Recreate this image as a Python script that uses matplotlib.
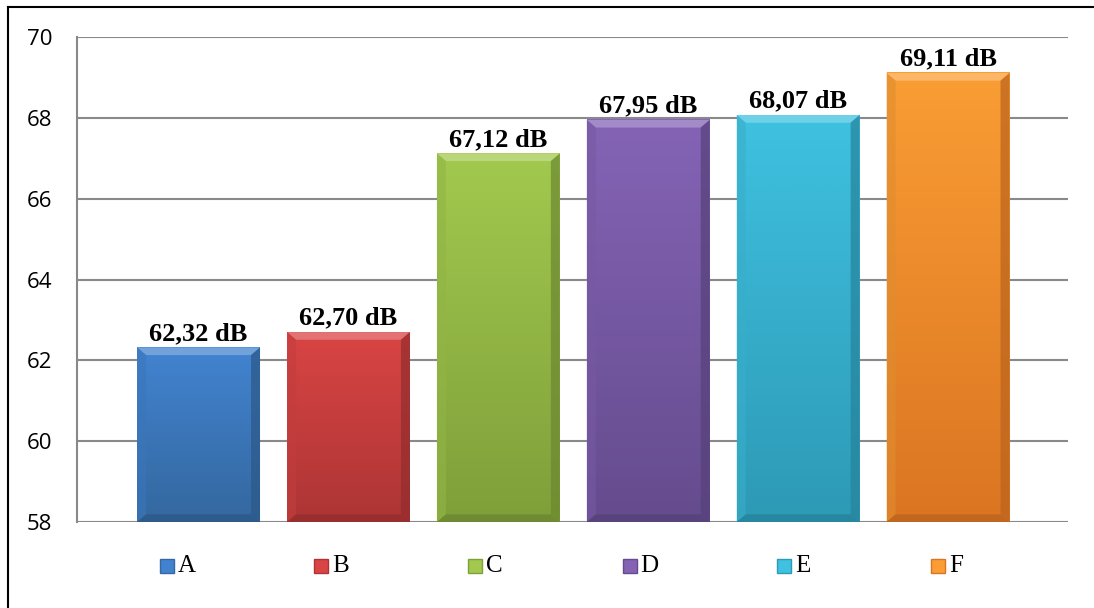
import numpy as np
import matplotlib
matplotlib.use("Agg")
import matplotlib.pyplot as plt
from matplotlib.patches import Rectangle, Polygon
from matplotlib.colors import to_rgb, LinearSegmentedColormap

plt.rcParams["font.family"] = ["Open Sans", "DejaVu Sans"]

names = ["A", "B", "C", "D", "E", "F"]
values = [62.32, 62.70, 67.12, 67.95, 68.07, 69.11]
labels = ["62,32 dB", "62,70 dB", "67,12 dB", "67,95 dB", "68,07 dB", "69,11 dB"]
top_colors = ["#4283D0", "#D94444", "#A2C94E", "#8463B5", "#3FC1E0", "#F99D34"]
bottom_colors = ["#34689F", "#AD3535", "#7F9F3A", "#654C8E", "#2D9AB6", "#DB7522"]
yticks = [58, 60, 62, 64, 66, 68, 70]

ymin = 58
width = 0.82


def mix(c, other, t):
    c = np.array(to_rgb(c))
    return tuple(c * (1 - t) + np.array(other) * t)


fig = plt.figure(figsize=(10.94, 6.08), dpi=100)
ax = fig.add_axes([0.0704, 0.1414, 0.9058, 0.7977])

x = np.arange(len(names))
bars = ax.bar(x, [v - ymin for v in values], width, bottom=ymin,
              color=top_colors, zorder=2, linewidth=0)

# gradient + bevel for each bar
bx = 0.06    # bevel width (x data units)
by = 0.19    # bevel height (y data units)
for b, c_top, c_bot in zip(bars, top_colors, bottom_colors):
    x0, y0 = b.get_x(), b.get_y()
    w, h = b.get_width(), b.get_height()
    cmap = LinearSegmentedColormap.from_list("g", [c_bot, c_top])
    grad = np.linspace(0, 1, 64).reshape(-1, 1)
    ax.imshow(grad, extent=(x0, x0 + w, y0, y0 + h), origin="lower",
              cmap=cmap, aspect="auto", zorder=3, interpolation="bicubic")
    x1, y1 = x0 + w, y0 + h
    # top bevel (light)
    ax.add_patch(Polygon([(x0, y1), (x1, y1), (x1 - bx, y1 - by), (x0 + bx, y1 - by)],
                         closed=True, facecolor=mix(c_top, (1, 1, 1), 0.25),
                         edgecolor="none", zorder=4))
    # left bevel
    ax.add_patch(Polygon([(x0, y0), (x0, y1), (x0 + bx, y1 - by), (x0 + bx, y0 + by)],
                         closed=True, facecolor=mix(c_top, (0, 0, 0), 0.1),
                         edgecolor="none", zorder=4, alpha=0.6))
    # right bevel (dark)
    ax.add_patch(Polygon([(x1, y0), (x1, y1), (x1 - bx, y1 - by), (x1 - bx, y0 + by)],
                         closed=True, facecolor=mix(c_bot, (0, 0, 0), 0.15),
                         edgecolor="none", zorder=4, alpha=0.7))
    # bottom bevel (dark)
    ax.add_patch(Polygon([(x0, y0), (x1, y0), (x1 - bx, y0 + by), (x0 + bx, y0 + by)],
                         closed=True, facecolor=mix(c_bot, (0, 0, 0), 0.15),
                         edgecolor="none", zorder=4, alpha=0.8))

for xi, v, lab in zip(x, values, labels):
    ax.text(xi, v + 0.06, lab, ha="center", va="bottom", fontsize=19,
            fontweight="bold", family=["Liberation Serif", "DejaVu Serif"], zorder=5)

ax.set_xlim(-0.811, 5.80)
ax.set_ylim(58, 70)
ax.set_yticks(yticks)
ax.set_xticks([])
ax.yaxis.grid(True, color="#898989", linewidth=1.5, zorder=1)
ax.set_axisbelow(True)
for side in ["top", "right", "bottom"]:
    ax.spines[side].set_visible(False)
ax.spines["left"].set_color("#898989")
ax.spines["left"].set_linewidth(1.5)
ax.tick_params(axis="y", length=0, pad=18, labelsize=16)

# legend (manual, evenly spaced like Excel)
W, H = 1094, 608
leg_y = 566
for i, (n, c_top, c_bot) in enumerate(zip(names, top_colors, bottom_colors)):
    mx = 160 + i * 154.2
    fig.add_artist(Rectangle((mx / W, 1 - (leg_y + 7) / H), 14 / W, 14 / H,
                             transform=fig.transFigure, facecolor=c_top,
                             edgecolor=c_bot, linewidth=1))
    fig.text((mx + 18) / W, 1 - leg_y / H, n, ha="left", va="center",
             fontsize=18, family=["Liberation Serif", "DejaVu Serif"])

# outer chart border
fig.add_artist(plt.Line2D([8 / W, 8 / W], [1 - 7 / H, 0], transform=fig.transFigure,
                          color="black", linewidth=1.5))
fig.add_artist(plt.Line2D([8 / W, 1], [1 - 7 / H, 1 - 7 / H], transform=fig.transFigure,
                          color="black", linewidth=1.5))

fig.savefig("out.png", dpi=100)
